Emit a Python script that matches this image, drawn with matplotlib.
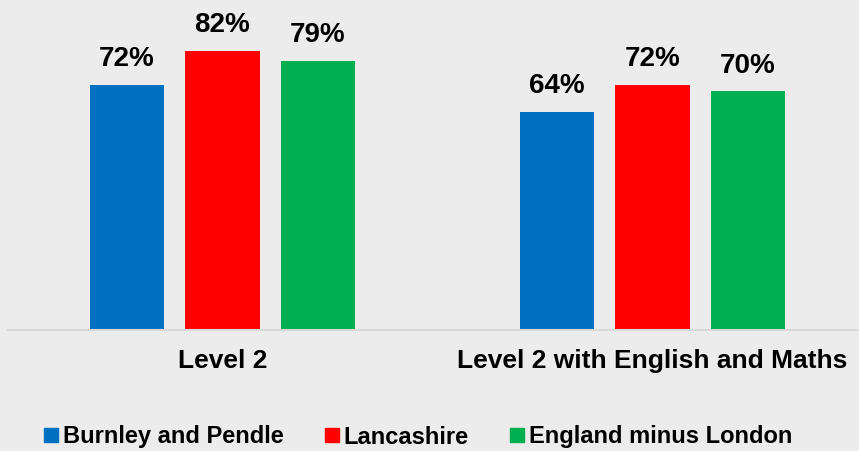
import matplotlib.pyplot as plt
from matplotlib.lines import Line2D
import numpy as np

plt.rcParams['font.family'] = ['Liberation Sans', 'DejaVu Sans']
plt.rcParams['font.weight'] = 'bold'

categories = ["Level 2", "Level 2 with English and Maths"]
series_names = ["Burnley and Pendle", "Lancashire", "England minus London"]
burnley = [72, 64]
lancashire = [82, 72]
england_ex_london = [79, 70]
colors = ["#0070C0", "#FF0000", "#00B050"]
bg = "#ECECEC"

W, H = 859, 451
fig = plt.figure(figsize=(W / 100, H / 100), dpi=100, facecolor=bg)
# plot area: baseline at y=329.5px, groups centred 430px apart
ax = fig.add_axes([7.5 / W, (H - 329.5) / H, 860 / W, 329.5 / H])
ax.set_facecolor(bg)

x = np.arange(len(categories))
bw = 0.174
step = 0.222
for i, (vals, col) in enumerate(zip([burnley, lancashire, england_ex_london], colors)):
    pos = x + (i - 1) * step
    ax.bar(pos, vals, width=bw, color=col, zorder=2)
    for p, v in zip(pos, vals):
        ax.annotate(f"{v}%", (p, v), xytext=(0, 9), textcoords="offset points",
                    ha="center", va="bottom", fontsize=20, fontweight="bold")

ax.set_xlim(-0.5, 1.5)
ax.set_ylim(0, 96.9)
ax.set_yticks([])
ax.set_xticks(x)
ax.set_xticklabels(categories, fontsize=19, fontweight="bold")
ax.tick_params(axis="x", length=0, pad=14)
for s in ["top", "left", "right"]:
    ax.spines[s].set_visible(False)
ax.spines["bottom"].set_color("#D9D9D9")
ax.spines["bottom"].set_linewidth(1.5)

handles = [Line2D([], [], marker="s", linestyle="none", markersize=9.4,
                  markerfacecolor=c, markeredgecolor=c) for c in colors]
fig.legend(handles, series_names, loc="center", ncol=3,
           bbox_to_anchor=(418 / W, (H - 437) / H), frameon=False,
           prop={"size": 17, "weight": "bold"}, handlelength=0.6,
           handletextpad=0.2, columnspacing=1.74, borderpad=0)

fig.savefig("out.png", dpi=100, facecolor=bg)
